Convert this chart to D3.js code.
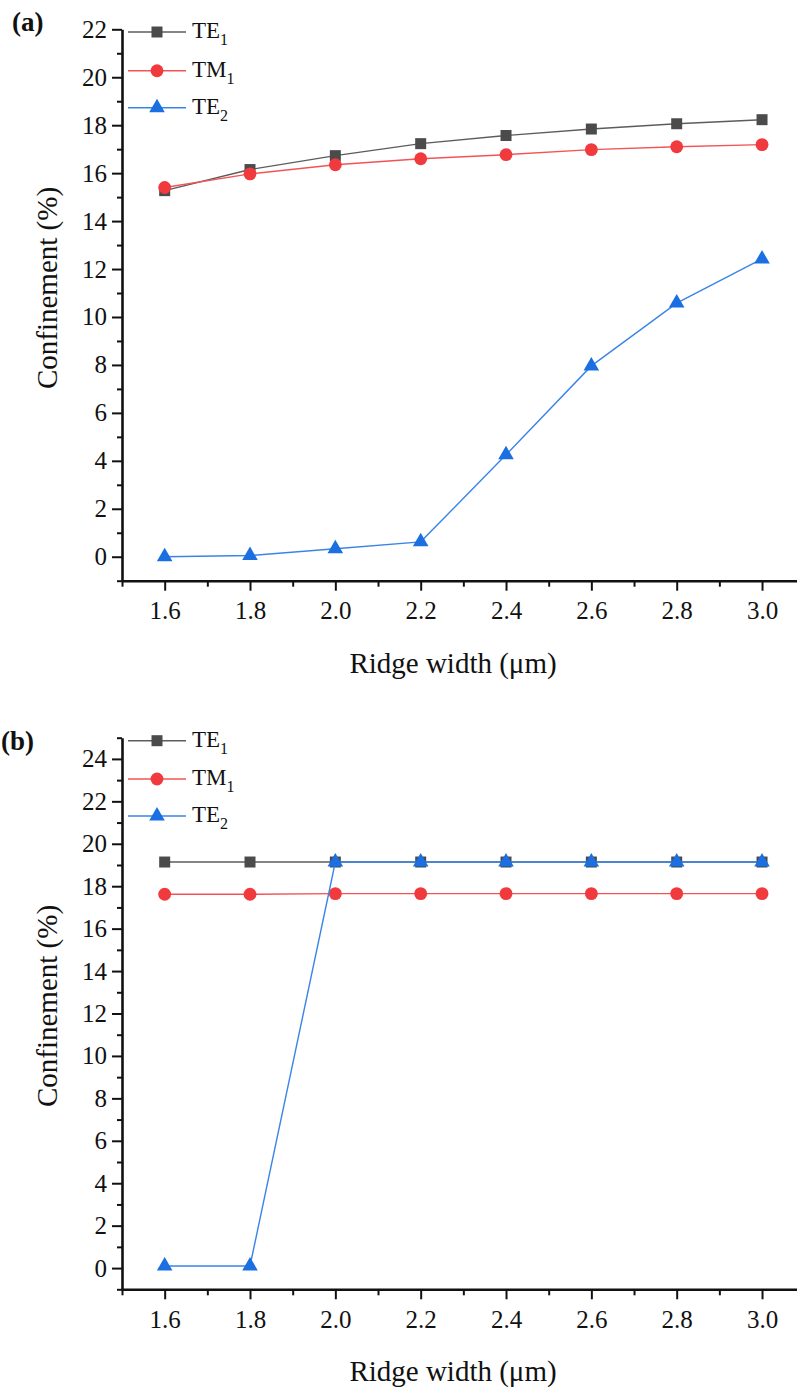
<!DOCTYPE html>
<html>
<head>
<meta charset="utf-8">
<script src="https://cdn.jsdelivr.net/npm/d3@7/dist/d3.min.js"></script>
</head>
<body style="margin:0;padding:0;background:#fff">
<svg id="chart" width="797" height="1391" style="display:block;font-family:'Liberation Serif'"></svg>
<script>
// Ridge widths (µm) shared by both panels
const ridgeWidths = [1.6, 1.8, 2.0, 2.2, 2.4, 2.6, 2.8, 3.0];

// Panel (a) confinement (%)
const aTE1 = [15.27, 16.15, 16.73, 17.23, 17.57, 17.84, 18.06, 18.23];
const aTM1 = [15.40, 15.97, 16.35, 16.60, 16.77, 16.98, 17.10, 17.19];
const aTE2 = [0.0, 0.05, 0.33, 0.62, 4.25, 7.96, 10.58, 12.42];

// Panel (b) confinement (%)
const bTE1 = [19.14, 19.14, 19.14, 19.14, 19.14, 19.14, 19.14, 19.14];
const bTM1 = [17.62, 17.62, 17.65, 17.65, 17.65, 17.65, 17.65, 17.65];
const bTE2 = [0.1, 0.1, 19.14, 19.14, 19.14, 19.14, 19.14, 19.14];

// Axis ticks
const xMajorTicks = [1.6, 1.8, 2.0, 2.2, 2.4, 2.6, 2.8, 3.0];
const xMinorTicks = [1.5, 1.7, 1.9, 2.1, 2.3, 2.5, 2.7, 2.9, 3.1];
const aYMajorTicks = [0, 2, 4, 6, 8, 10, 12, 14, 16, 18, 20, 22];
const aYMinorTicks = [-1, 1, 3, 5, 7, 9, 11, 13, 15, 17, 19, 21];
const bYMajorTicks = [0, 2, 4, 6, 8, 10, 12, 14, 16, 18, 20, 22, 24];
const bYMinorTicks = [-1, 1, 3, 5, 7, 9, 11, 13, 15, 17, 19, 21, 23, 25];

const seriesNames = ["TE", "TM", "TE"];
const seriesSubs = ["1", "1", "2"];

const FONT = "'Liberation Serif'";

const styles = [
  { line: "#5c5c5c", fill: "#4b4b4b", shape: d3.symbolSquare, size: 121 },
  { line: "#f25454", fill: "#f03a3e", shape: d3.symbolCircle, size: 130 },
  { line: "#3a84e8", fill: "#1b6fe0", shape: d3.symbolTriangle, size: 105 }
];

const svg = d3.select("#chart");

function drawPanel(opts) {
  const x = d3.scaleLinear().domain([1.5, 3.1]).range([122, 804.7]);
  const y = d3.scaleLinear().domain(opts.yDomain).range([opts.yBottom, opts.yTop]);
  const g = svg.append("g");

  // minor ticks
  g.append("g")
    .attr("transform", `translate(0,${opts.yBottom})`)
    .call(d3.axisBottom(x).tickValues(xMinorTicks).tickSize(6).tickSizeOuter(0).tickFormat(""))
    .call(s => s.select(".domain").remove());
  g.append("g")
    .attr("transform", `translate(122,0)`)
    .call(d3.axisLeft(y).tickValues(opts.yMinor).tickSize(5).tickSizeOuter(0).tickFormat(""))
    .call(s => s.select(".domain").remove());

  // major axes
  const xa = g.append("g")
    .attr("transform", `translate(0,${opts.yBottom})`)
    .call(d3.axisBottom(x).tickValues(xMajorTicks).tickSize(10).tickSizeOuter(0)
      .tickPadding(11).tickFormat(d3.format(".1f")));
  const ya = g.append("g")
    .attr("transform", `translate(122,0)`)
    .call(d3.axisLeft(y).tickValues(opts.yMajor).tickSize(10).tickSizeOuter(0)
      .tickPadding(5).tickFormat(d3.format("d")));

  g.selectAll(".tick line").attr("stroke", "#111").attr("stroke-width", 2);
  g.selectAll(".domain").attr("stroke", "#111").attr("stroke-width", 2.6);
  [xa, ya].forEach(a => {
    a.attr("font-family", null).attr("font-size", null);
    a.selectAll("text")
      .style("font-family", FONT).style("font-size", "25px").attr("fill", "#111");
  });

  // series
  const line = d3.line().x((d, i) => x(ridgeWidths[i])).y(d => y(d));
  opts.series.forEach((vals, k) => {
    const st = styles[k];
    g.append("path").datum(vals)
      .attr("d", line).attr("fill", "none")
      .attr("stroke", st.line).attr("stroke-width", 1.4);
    g.selectAll(null).data(vals).enter().append("path")
      .attr("d", d3.symbol().type(st.shape).size(st.size))
      .attr("transform", (d, i) => `translate(${x(ridgeWidths[i])},${y(d)})`)
      .attr("fill", st.fill);
  });

  // legend
  opts.legendY.forEach((ly, k) => {
    const st = styles[k];
    g.append("line").attr("x1", 128).attr("x2", 186).attr("y1", ly).attr("y2", ly)
      .attr("stroke", st.line).attr("stroke-width", 1.4);
    g.append("path").attr("d", d3.symbol().type(st.shape).size(st.size))
      .attr("transform", `translate(157,${ly})`).attr("fill", st.fill);
    const t = g.append("text").attr("x", 192).attr("y", ly + 6)
      .style("font-family", FONT).style("font-size", "23px").attr("fill", "#111");
    t.append("tspan").text(seriesNames[k]);
    t.append("tspan").style("font-size", "16px").attr("dy", 7).text(seriesSubs[k]);
  });

  // axis titles
  g.append("text")
    .attr("transform", `translate(57,${opts.yTitleY}) rotate(-90)`)
    .attr("text-anchor", "middle")
    .style("font-family", FONT).style("font-size", "29px").attr("fill", "#111")
    .text("Confinement (%)");
  g.append("text")
    .attr("x", 453).attr("y", opts.yBottom + 92)
    .attr("text-anchor", "middle")
    .style("font-family", FONT).style("font-size", "29px").attr("fill", "#111")
    .text("Ridge width (μm)");

  // panel label
  g.append("text")
    .attr("x", opts.labelX).attr("y", opts.labelY)
    .style("font-family", FONT).style("font-size", "27px").style("font-weight", "bold")
    .attr("fill", "#111")
    .text(opts.label);
}

drawPanel({
  yDomain: [-1, 22], yTop: 29.3, yBottom: 580.7,
  yMajor: aYMajorTicks, yMinor: aYMinorTicks,
  series: [aTE1, aTM1, aTE2],
  legendY: [32, 70.7, 107.7],
  yTitleY: 288,
  label: "(a)", labelX: 12, labelY: 31
});

drawPanel({
  yDomain: [-1, 25], yTop: 737.7, yBottom: 1289.3,
  yMajor: bYMajorTicks, yMinor: bYMinorTicks,
  series: [bTE1, bTM1, bTE2],
  legendY: [740.7, 779, 816],
  yTitleY: 1006,
  label: "(b)", labelX: 1, labelY: 750
});
</script>
</body>
</html>
